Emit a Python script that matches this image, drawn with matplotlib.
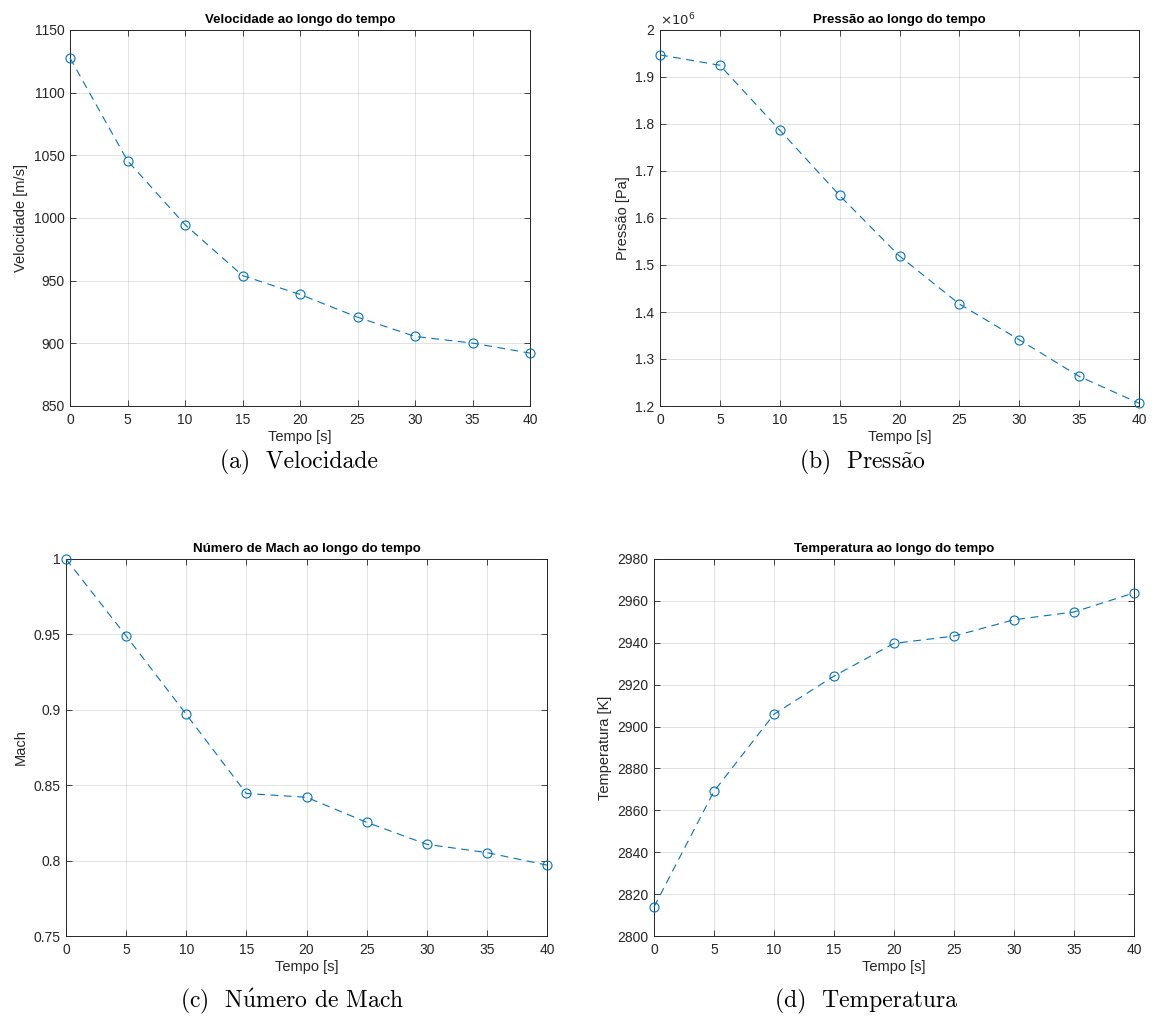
import matplotlib
matplotlib.use("Agg")
import matplotlib.pyplot as plt
from matplotlib.ticker import FuncFormatter, MultipleLocator

# ---- data -------------------------------------------------------------
tempo = [0, 5, 10, 15, 20, 25, 30, 35, 40]

velocidade = [1127.7, 1045.7, 994.7, 954.1, 939.0, 920.9, 905.5, 900.2, 892.2]
pressao = [1.947e6, 1.925e6, 1.787e6, 1.648e6, 1.519e6, 1.417e6, 1.341e6, 1.263e6, 1.206e6]
mach = [1.000, 0.949, 0.897, 0.8445, 0.842, 0.8254, 0.8108, 0.8053, 0.797]
temperatura = [2813.9, 2869.1, 2905.9, 2924.1, 2939.7, 2943.2, 2951.0, 2954.7, 2963.8]

titulos = ["Velocidade ao longo do tempo", "Pressão ao longo do tempo",
           "Número de Mach ao longo do tempo", "Temperatura ao longo do tempo"]
rotulos_y = ["Velocidade [m/s]", "Pressão [Pa]", "Mach", "Temperatura [K]"]
# subfigure captions in Computer Modern; accented letters go through mathtext
legendas = ["(a)  Velocidade",
            r"(b)  Press$\mathrm{\tilde{a}}$o",
            r"(c)  N$\mathrm{\acute{u}}$mero de Mach",
            "(d)  Temperatura"]
rotulo_x = "Tempo [s]"

limites_y = [(850, 1150), (1.2e6, 2.0e6), (0.75, 1.0), (2800, 2980)]
passos_y = [50, 0.1e6, 0.05, 20]

# ---- style ------------------------------------------------------------
W, H = 1153, 1028
AZUL = "#0072BD"
CINZA = "#262626"
SANS = ["Liberation Sans", "DejaVu Sans"]
SERIF = ["cmr10", "DejaVu Serif"]

plt.rcParams["font.family"] = SANS
plt.rcParams["axes.unicode_minus"] = False
plt.rcParams["mathtext.fontset"] = "cm"

fig = plt.figure(figsize=(W / 100, H / 100), dpi=100)
fig.patch.set_facecolor("white")


def caixa(l, r, t, b):
    return [l / W, 1 - b / H, (r - l) / W, (b - t) / H]


posicoes = [caixa(70, 530, 30, 406), caixa(660, 1139, 30, 406),
            caixa(66, 547, 559, 936), caixa(654, 1134, 559, 936)]
centros_legenda = [(299, 462), (862, 462), (292, 1001), (866, 1001)]
series = [velocidade, pressao, mach, temperatura]

for i in range(4):
    ax = fig.add_axes(posicoes[i])
    ax.plot(tempo, series[i], linestyle=(0, (7, 5)), color=AZUL, lw=0.8,
            marker="o", markersize=6.5, markerfacecolor="none",
            markeredgecolor=AZUL, markeredgewidth=0.8, clip_on=False, zorder=3)
    ax.set_xlim(0, 40)
    ax.set_ylim(*limites_y[i])
    ax.xaxis.set_major_locator(MultipleLocator(5))
    ax.yaxis.set_major_locator(MultipleLocator(passos_y[i]))
    if i == 1:
        ax.yaxis.set_major_formatter(FuncFormatter(lambda v, p: "%g" % round(v / 1e6, 3)))
        ax.text(0.0, 1.005, r"$\times10^{6}$", transform=ax.transAxes,
                ha="left", va="bottom", fontsize=9.5, color=CINZA,
                math_fontfamily="dejavusans")
    else:
        ax.yaxis.set_major_formatter(FuncFormatter(lambda v, p: "%g" % round(v, 4)))

    ax.grid(True, color=CINZA, alpha=0.15, lw=0.6)
    ax.set_axisbelow(True)
    for s in ax.spines.values():
        s.set_color(CINZA)
        s.set_linewidth(0.7)
    ax.tick_params(direction="in", length=4, width=0.6, color=CINZA,
                   labelcolor=CINZA, labelsize=10, top=True, right=True)
    ax.tick_params(axis="x", pad=5)
    ax.tick_params(axis="y", pad=4)

    ax.set_title(titulos[i], fontsize=9.5, fontweight="bold", pad=5, color="black")
    ax.set_xlabel(rotulo_x, fontsize=10.5, color=CINZA, labelpad=2)
    ax.set_ylabel(rotulos_y[i], fontsize=10.5, color=CINZA, labelpad=4)

    cx, cy = centros_legenda[i]
    fig.text(cx / W, 1 - cy / H, legendas[i], ha="center", va="center",
             fontsize=17, family=SERIF, color="black")

fig.savefig("out.png", dpi=100, facecolor="white")
